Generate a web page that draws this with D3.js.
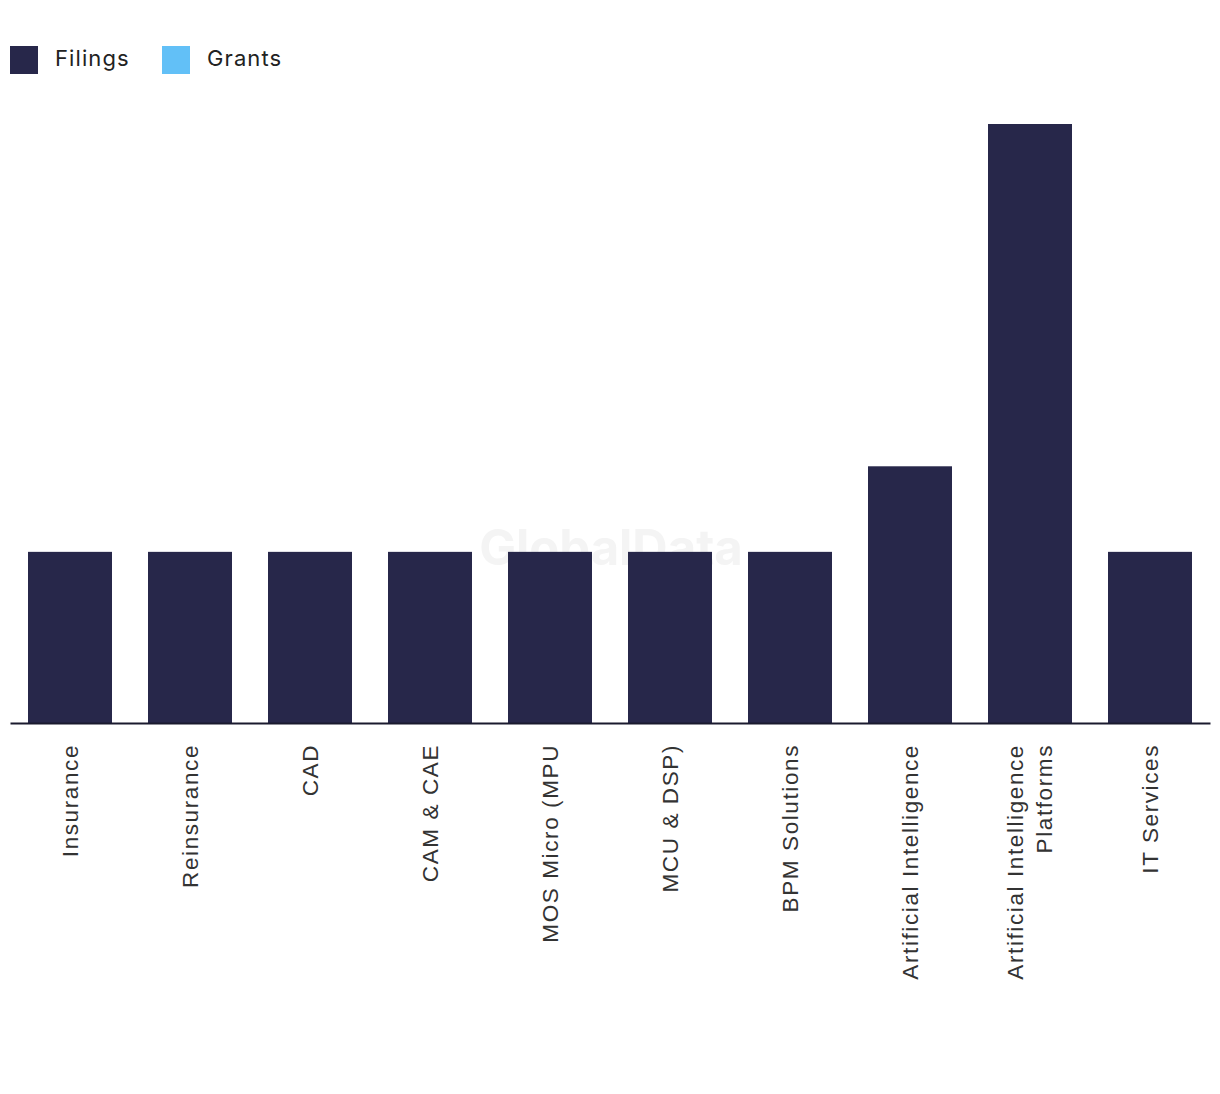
<!DOCTYPE html>
<html><head><meta charset="utf-8">
<script src="https://cdn.jsdelivr.net/npm/d3@7"></script>
<style>body{margin:0;background:#fff;} svg{display:block;}</style>
</head><body>
<svg id="chart" width="1220" height="1094"></svg>
<script>
const categories = ["Insurance","Reinsurance","CAD","CAM & CAE","MOS Micro (MPU","MCU & DSP)","BPM Solutions","Artificial Intelligence","Artificial Intelligence Platforms","IT Services"];
const filings = [2,2,2,2,2,2,2,3,7,2];
const grants = [0,0,0,0,0,0,0,0,0,0];
const seriesNames = ["Filings","Grants"];
const seriesColors = ["#27274a","#62c0f7"];

const svg = d3.select("#chart");
const x = d3.scaleBand().domain(categories).range([10,1210]).paddingInner(0.3).paddingOuter(0.15);
const y = d3.scaleLinear().domain([0,7]).range([723,124]);

// watermark
svg.append("text").attr("x",611).attr("y",565).attr("text-anchor","middle")
  .attr("font-family","Inter, 'Open Sans', sans-serif").attr("font-weight",700).attr("font-size",49)
  .attr("fill","#f4f4f4").text("GlobalData");

// bars
svg.append("g").selectAll("rect.f").data(filings).join("rect")
  .attr("x",(d,i)=>x(categories[i])).attr("width",x.bandwidth())
  .attr("y",d=>y(d)).attr("height",d=>y(0)-y(d)).attr("fill",seriesColors[0]);
svg.append("g").selectAll("rect.g").data(grants).join("rect")
  .attr("x",(d,i)=>x(categories[i])).attr("width",x.bandwidth())
  .attr("y",d=>y(d)).attr("height",d=>y(0)-y(d)).attr("fill",seriesColors[1]);

// axis
const ax = svg.append("g").attr("transform","translate(0,723)").call(d3.axisBottom(x).tickSize(0).tickFormat(""));
ax.select(".domain").attr("stroke","#1a1a2e").attr("stroke-width",2);

// labels
const wrapMap = {"Artificial Intelligence Platforms":["Artificial Intelligence","Platforms"]};
categories.forEach(c=>{
  const lines = wrapMap[c] || [c];
  const cx = x(c)+x.bandwidth()/2;
  const n = lines.length;
  const t = svg.append("text").attr("transform",`translate(${cx},744) rotate(-90)`)
    .attr("text-anchor","end").attr("font-family","'Liberation Sans', Arial, sans-serif")
    .attr("font-size",22.5).attr("letter-spacing","1.6px").attr("fill","#333");
  lines.forEach((l,j)=>{
    t.append("tspan").attr("x",0).attr("y",(j-(n-1)/2)*29).attr("dy","0.35em").text(l);
  });
});

// legend
const lg = svg.append("g");
seriesNames.forEach((s,i)=>{
  const ox = [10,162][i];
  lg.append("rect").attr("x",ox).attr("y",46).attr("width",28).attr("height",28).attr("fill",seriesColors[i]);
  lg.append("text").attr("x",ox+45).attr("y",66).attr("font-family","Inter, 'Open Sans', sans-serif")
    .attr("font-size",22).attr("letter-spacing","1.1px").attr("fill","#222").text(s);
});
</script>
</body></html>
